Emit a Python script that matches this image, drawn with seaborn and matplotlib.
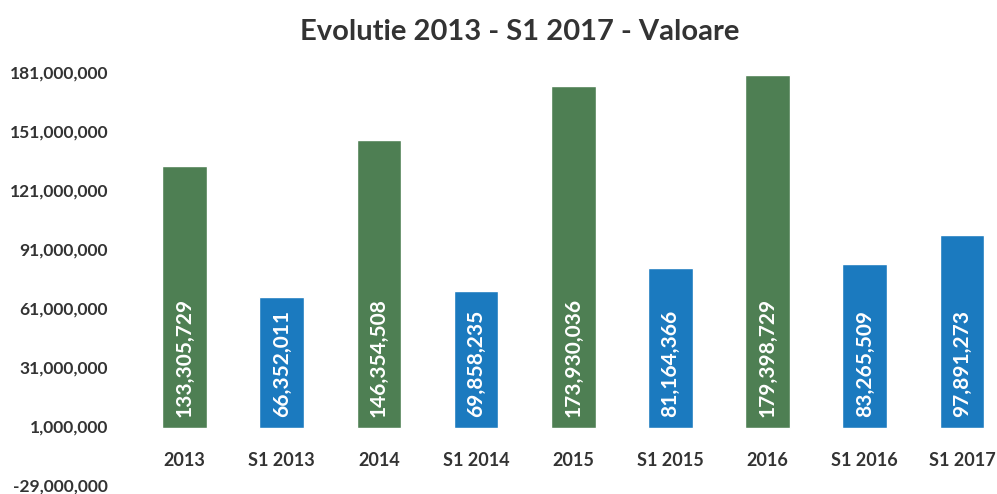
import matplotlib
matplotlib.use("Agg")
import matplotlib.pyplot as plt
import seaborn as sns
import pandas as pd
from matplotlib.ticker import FuncFormatter

# data
categories = ["2013", "S1 2013", "2014", "S1 2014", "2015", "S1 2015", "2016", "S1 2016", "S1 2017"]
values = [133305729, 66352011, 146354508, 69858235, 173930036, 81164366, 179398729, 83265509, 97891273]
bar_colors = ["#4e7f53", "#1b7abf", "#4e7f53", "#1b7abf", "#4e7f53", "#1b7abf", "#4e7f53", "#1b7abf", "#1b7abf"]
y_ticks = [-29000000, 1000000, 31000000, 61000000, 91000000, 121000000, 151000000, 181000000]

sns.set_theme(style="white")
plt.rcParams["font.family"] = ["Lato", "DejaVu Sans"]

df = pd.DataFrame({"cat": categories, "val": values})

fig = plt.figure(figsize=(9.97, 4.94), dpi=100)
ax = fig.add_axes([136 / 997, 1 - 485 / 494, 1 - 136 / 997, (485 - 72) / 494])

sns.barplot(data=df, x="cat", y="val", hue="cat", palette=bar_colors,
            legend=False, width=0.46, saturation=1, ax=ax)

ax.set_ylim(y_ticks[0], y_ticks[-1])
ax.set_xlim(-0.5, 8.36)
ax.set_yticks(y_ticks)
ax.yaxis.set_major_formatter(FuncFormatter(lambda v, p: f"{int(v):,}"))
ax.set_xlabel("")
ax.set_ylabel("")

for s in ax.spines.values():
    s.set_visible(False)
ax.spines["bottom"].set_position(("data", 0))
ax.tick_params(axis="x", length=0, pad=17, labelsize=13, labelcolor="#333333")
ax.tick_params(axis="y", length=0, pad=20, labelsize=12.5, labelcolor="#333333")
for lab in ax.get_xticklabels() + ax.get_yticklabels():
    lab.set_fontweight("bold")

# value labels, inside base of bars
for i, v in enumerate(values):
    ax.annotate(f"{v:,}", xy=(i, 0), xytext=(0, 8), textcoords="offset points",
                rotation=90, ha="center", va="bottom", color="white",
                fontsize=15, fontweight="bold")

fig.text(520 / 997, 1 - 32 / 494, "Evolutie 2013 - S1 2017 - Valoare",
         ha="center", va="center", fontsize=21, fontweight="bold", color="#333333")

fig.savefig("out.png", dpi=100)
